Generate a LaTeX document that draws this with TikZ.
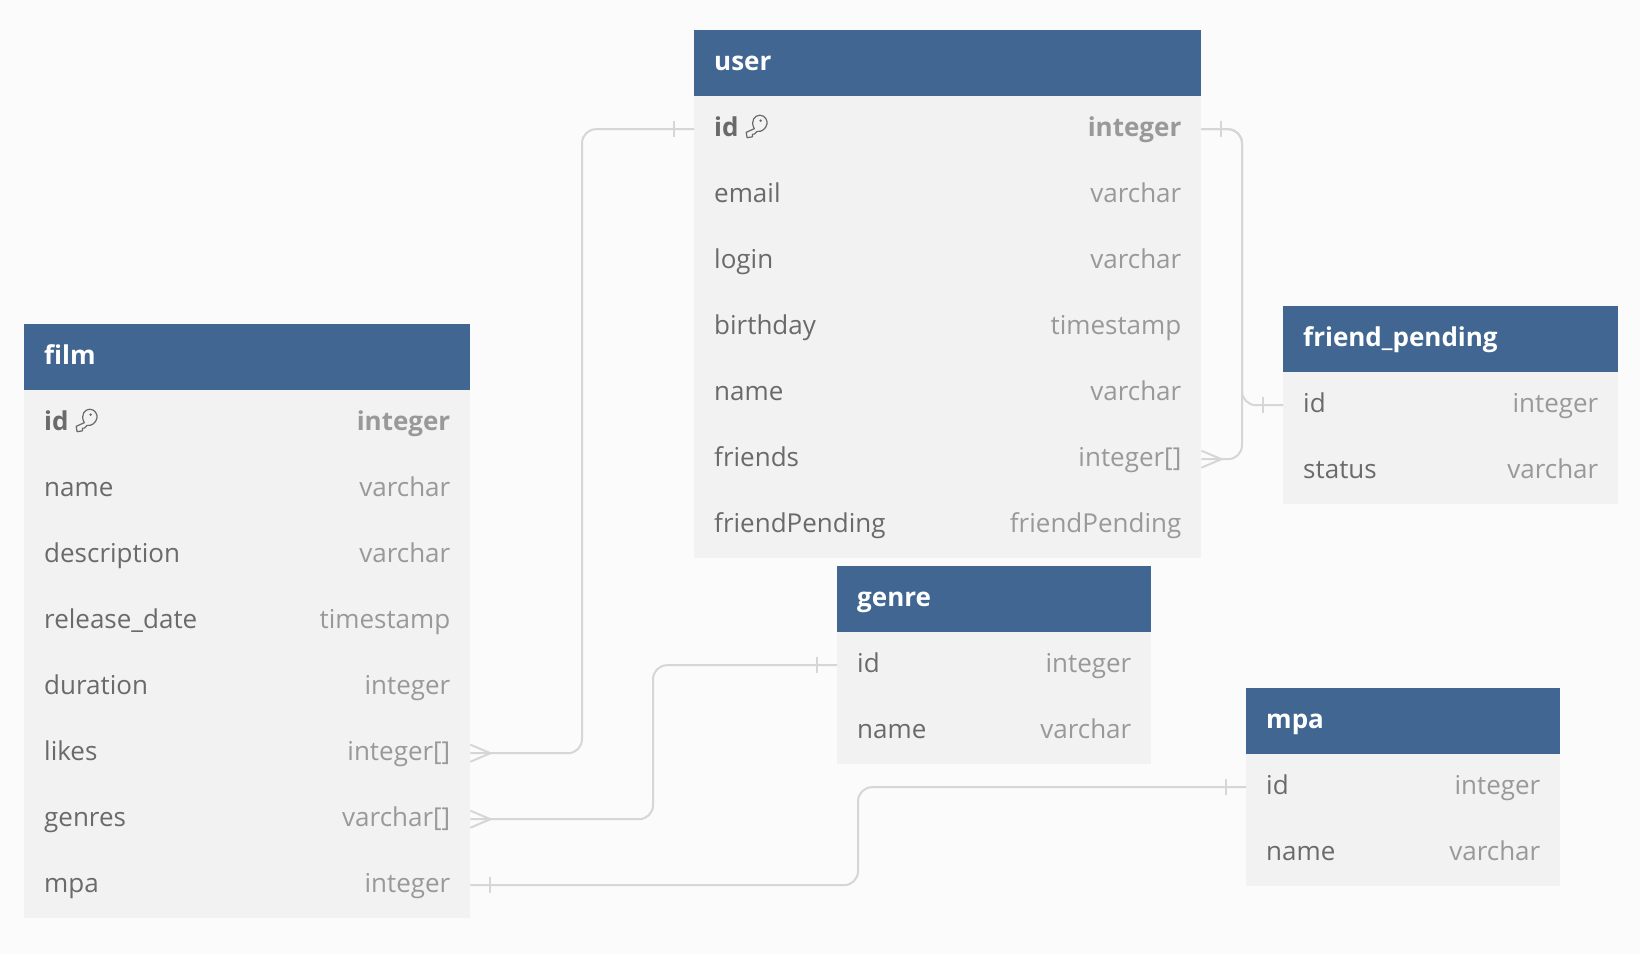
\documentclass[tikz,border=0pt]{standalone}
\usepackage{fontspec}
\setmainfont{Open Sans}
\usetikzlibrary{arrows.meta}
\definecolor{pagebg}{HTML}{FBFBFB}
\definecolor{headblue}{HTML}{406691}
\definecolor{rowgray}{HTML}{F2F2F2}
\definecolor{colgray}{HTML}{6A6A6A}
\definecolor{typegray}{HTML}{999999}
\definecolor{relgray}{HTML}{D6D6D6}
\catcode`\_=12
\tikzset{
	tablehead/.style={fill=headblue, inner sep=0pt, anchor=north west, minimum height=66pt},
	tablerow/.style={fill=rowgray, inner sep=0pt, anchor=north west, minimum height=66pt},
	tabletitle/.style={text=white, font=\fontsize{26}{30}\selectfont\bfseries, anchor=base west, inner sep=0pt},
	colname/.style={text=colgray, font=\fontsize{26}{30}\selectfont, anchor=base west, inner sep=0pt},
	coltype/.style={text=typegray, font=\fontsize{26}{30}\selectfont, anchor=base east, inner sep=0pt},
	rel/.style={draw=relgray, line width=2pt},
	relbend/.style={rel, rounded corners=14pt},
	keyicon/.pic={
		\draw[colgray, line width=1.2pt, line join=round] (-3,3) .. controls (-8,-6) and (-2,-12) .. (3,-12)
			.. controls (9,-12) and (12,-6) .. (11,-2) .. controls (10,3) and (5,7) .. (0,6)
			-- (-3,9) -- (-5,9) -- (-5,12) -- (-11,13) -- (-12,7) -- cycle;
		\fill[colgray] (4,-6) circle (1.5pt);
	}
}
% one table: id, shown name, x, y, width, font of the first row, rows
\newcommand{\ertable}[7]{
	\node[tablehead, minimum width=#5pt] (#1) at (#3,#4) {};
	\node[tabletitle] (#1-title) at (#3+20,#4+40) {#2};
	\foreach \col/\type [count=\i from 0] in {#7} {
		\node[tablerow, minimum width=#5pt] (#1-\col) at (#3,#4+66+66*\i) {};
		\node[colname] (#1-\col-name) at (#3+20,#4+106.5+66*\i) {\ifnum\i=0 #6\fi\col};
		\node[coltype] (#1-\col-type) at (#3+#5-19.5,#4+106.5+66*\i) {\ifnum\i=0 #6\fi\type};
	}
}
\begin{document}
\begin{tikzpicture}[x=1pt, y=-1pt]
	\useasboundingbox (0,0) rectangle (1640,954);
	\fill[pagebg] (0,0) rectangle (1640,954);
	\ertable{film}{film}{24}{324}{446}{\bfseries}{id/integer, name/varchar, description/varchar, release_date/timestamp, duration/integer, likes/integer[], genres/varchar[], mpa/integer}
	\ertable{user}{user}{694}{30}{507}{\bfseries}{id/integer, email/varchar, login/varchar, birthday/timestamp, name/varchar, friends/integer[], friendPending/friendPending}
	\ertable{fp}{friend_pending}{1283}{306}{335}{}{id/integer, status/varchar}
	\ertable{genre}{genre}{837}{566}{314}{}{id/integer, name/varchar}
	\ertable{mpa}{mpa}{1246}{688}{314}{}{id/integer, name/varchar}
	\pic[scale=.9] at (87,420) {keyicon};
	\pic[scale=.9] at (757,126) {keyicon};
	% vertical runs of the relations
	\coordinate (likes-bend) at (582,0);
	\coordinate (genres-bend) at (653,0);
	\coordinate (mpa-bend) at (858,0);
	\coordinate (friends-bend) at (1242,0);
	\draw[relbend] (film-likes.east) -- (film-likes.east -| likes-bend) -- (user-id.west -| likes-bend) -- (user-id.west);
	\draw[relbend] (film-genres.east) -- (film-genres.east -| genres-bend) -- (genre-id.west -| genres-bend) -- (genre-id.west);
	\draw[relbend] (film-mpa.east) -- (film-mpa.east -| mpa-bend) -- (mpa-id.west -| mpa-bend) -- (mpa-id.west);
	\draw[relbend] (user-id.east) -- (user-id.east -| friends-bend) -- (fp-id.west -| friends-bend) -- (fp-id.west);
	\draw[relbend] (user-friends.east) -- (user-friends.east -| friends-bend) -- (user-id.east -| friends-bend) -- (user-id.east);
	% crow feet
	\foreach \a in {film-likes.east, film-genres.east, user-friends.east}
		\draw[rel] ([yshift=8.5pt]\a) -- ([xshift=20pt]\a) -- ([yshift=-8.5pt]\a);
	% single ticks
	\foreach \a/\s in {film-mpa.east/20, user-id.east/20, user-id.west/-20, fp-id.west/-20, genre-id.west/-20, mpa-id.west/-20}
		\draw[rel] ([shift={(\s,-8)}]\a) -- ([shift={(\s,8)}]\a);
\end{tikzpicture}
\end{document}
